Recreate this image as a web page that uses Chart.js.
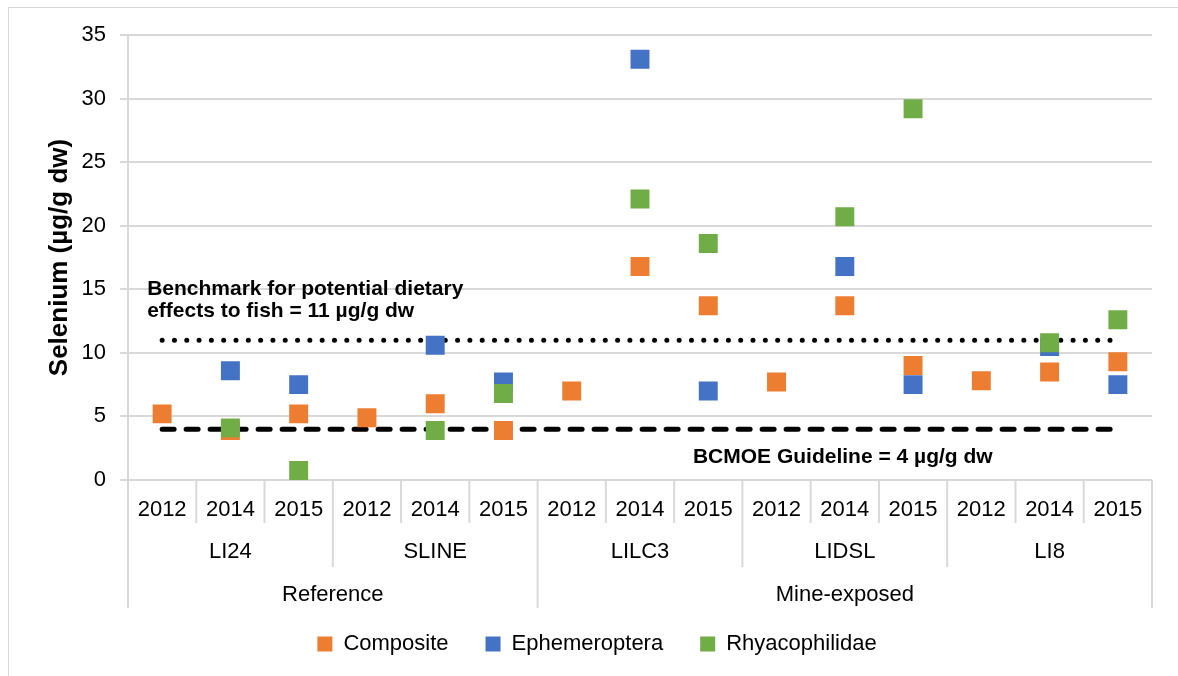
<!DOCTYPE html>
<html>
<head>
<meta charset="utf-8">
<script src="https://cdn.jsdelivr.net/npm/chart.js@4.4.1/dist/chart.umd.min.js"></script>
<style>
  html, body { margin: 0; padding: 0; background: #fff; }
  #frame { position: absolute; left: 8px; top: 7px; width: 1200px; height: 700px; border: 1px solid #d9d9d9; }
  canvas { position: absolute; left: 0; top: 0; }
</style>
</head>
<body>
<div id="frame"></div>
<canvas id="grafica" width="1178" height="676"></canvas>
<script>
// categorias (3 años por estación)
const years = ['2012', '2014', '2015', '2012', '2014', '2015', '2012', '2014', '2015',
               '2012', '2014', '2015', '2012', '2014', '2015'];
const sites = ['LI24', 'SLINE', 'LILC3', 'LIDSL', 'LI8'];
const groups = ['Reference', 'Mine-exposed'];
const sitesPerGroup = [2, 3];

// valores de selenio (µg/g dw)
const composite = [5.2, 3.9, 5.2, 4.9, 6.0, 3.9, 7.0, 16.8, 13.7, 7.7, 13.7, 9.0, 7.8, 8.5, 9.3];
const ephemeroptera = [null, 8.6, 7.5, null, 10.6, 7.7, null, 33.1, 7.0, null, 16.8, 7.5, null, 10.5, 7.5];
const rhyacophilidae = [null, 4.1, 0.75, null, 3.9, 6.8, null, 22.1, 18.6, null, 20.7, 29.2, null, 10.8, 12.6];

// líneas de referencia
const benchmark = [11, 11, 11, 11, 11, 11, 11, 11, 11, 11, 11, 11, 11, 11, 11];
const guideline = [4, 4, 4, 4, 4, 4, 4, 4, 4, 4, 4, 4, 4, 4, 4];

Chart.defaults.font.family = '"Liberation Sans", Arial, sans-serif';
Chart.defaults.color = '#000';

function puntos(label, data, color, order) {
    return {
        label: label,
        data: data,
        showLine: false,
        backgroundColor: color,
        borderColor: color,
        borderWidth: 0,
        pointStyle: 'rect',
        pointRadius: 13.4,
        pointHoverRadius: 13.4,
        order: order
    };
}

// etiquetas de varios niveles bajo el eje x
const ejeMultinivel = {
    id: 'ejeMultinivel',
    afterLayout(chart) {
        // centrar la leyenda como en la original
        chart.legend.left += 21;
        chart.legend.right += 21;
    },
    afterDraw(chart) {
        const ctx = chart.ctx;
        const x = chart.scales.x;
        const area = chart.chartArea;
        const band = x.getPixelForValue(1) - x.getPixelForValue(0);
        const edge = i => x.getPixelForValue(i) - band / 2;

        ctx.save();
        ctx.strokeStyle = '#d9d9d9';
        ctx.lineWidth = 2;
        const groupEdges = [0];
        let acc = 0;
        sitesPerGroup.forEach(n => { acc += n * 3; groupEdges.push(acc); });
        for (let i = 0; i <= years.length; i++) {
            let bottom = area.bottom + 43;
            if (groupEdges.includes(i)) bottom = area.bottom + 128;
            else if (i % 3 === 0) bottom = area.bottom + 87;
            ctx.beginPath();
            ctx.moveTo(edge(i), area.bottom);
            ctx.lineTo(edge(i), bottom);
            ctx.stroke();
        }

        ctx.fillStyle = '#000';
        ctx.font = '22px "Liberation Sans", Arial, sans-serif';
        ctx.textAlign = 'center';
        ctx.textBaseline = 'middle';
        sites.forEach((s, k) => {
            const cx = (edge(k * 3) + edge(k * 3 + 3)) / 2;
            ctx.fillText(s, cx, area.bottom + 72);
        });
        groups.forEach((g, k) => {
            const cx = (edge(groupEdges[k]) + edge(groupEdges[k + 1])) / 2;
            ctx.fillText(g, cx, area.bottom + 115);
        });

        // textos de las líneas de referencia
        const y = chart.scales.y;
        ctx.font = 'bold 21px "Liberation Sans", Arial, sans-serif';
        ctx.textAlign = 'left';
        const tx = x.getPixelForValue(0) - 15;
        ctx.fillText('Benchmark for potential dietary', tx, y.getPixelForValue(15));
        ctx.fillText('effects to fish = 11 µg/g dw', tx, y.getPixelForValue(15) + 22);
        ctx.textAlign = 'center';
        ctx.fillText('BCMOE Guideline = 4 µg/g dw', x.getPixelForValue(10) - 2, y.getPixelForValue(4) + 28);
        ctx.restore();
    }
};

const ctx = document.getElementById('grafica').getContext('2d');

new Chart(ctx, {
    type: 'line',
    data: {
        labels: years,
        datasets: [
            puntos('Composite', composite, '#ED7D31', 3),
            puntos('Ephemeroptera', ephemeroptera, '#4472C4', 2),
            puntos('Rhyacophilidae', rhyacophilidae, '#70AD47', 1),
            {
                label: 'Benchmark',
                data: benchmark,
                borderColor: '#000',
                backgroundColor: '#000',
                borderWidth: 5,
                borderDash: [0.01, 12.3],
                borderCapStyle: 'round',
                pointRadius: 0,
                pointHoverRadius: 0,
                order: 10
            },
            {
                label: 'BCMOE Guideline',
                data: guideline,
                borderColor: '#000',
                backgroundColor: '#000',
                borderWidth: 5,
                borderDash: [12, 12],
                borderCapStyle: 'round',
                pointRadius: 0,
                pointHoverRadius: 0,
                order: 10
            }
        ]
    },
    options: {
        responsive: false,
        animation: false,
        layout: { padding: { top: 35, right: 26, bottom: 11, left: 0 } },
        plugins: {
            tooltip: { enabled: false },
            legend: {
                position: 'bottom',
                labels: {
                    font: { size: 22 },
                    color: '#000',
                    boxWidth: 15,
                    boxHeight: 15,
                    padding: 37,
                    filter: item => item.datasetIndex < 3,
                    sort: (a, b) => a.datasetIndex - b.datasetIndex
                }
            }
        },
        scales: {
            x: {
                offset: true,
                grid: { display: false },
                border: { display: false },
                ticks: { font: { size: 22 }, color: '#000', padding: 9, autoSkip: false, maxRotation: 0 },
                afterFit: scale => { scale.height = 116; }
            },
            y: {
                min: 0,
                max: 35,
                ticks: { stepSize: 5, font: { size: 22 }, color: '#000', padding: 14 },
                grid: { color: '#d9d9d9', lineWidth: 2, tickLength: 8 },
                border: { display: true, color: '#d9d9d9', width: 2 },
                title: {
                    display: true,
                    text: 'Selenium (µg/g dw)',
                    font: { size: 26, weight: 'bold' },
                    color: '#000',
                    padding: { top: 44, bottom: 0 }
                },
                afterFit: scale => { scale.width = 128; }
            }
        }
    },
    plugins: [ejeMultinivel]
});
</script>
</body>
</html>
